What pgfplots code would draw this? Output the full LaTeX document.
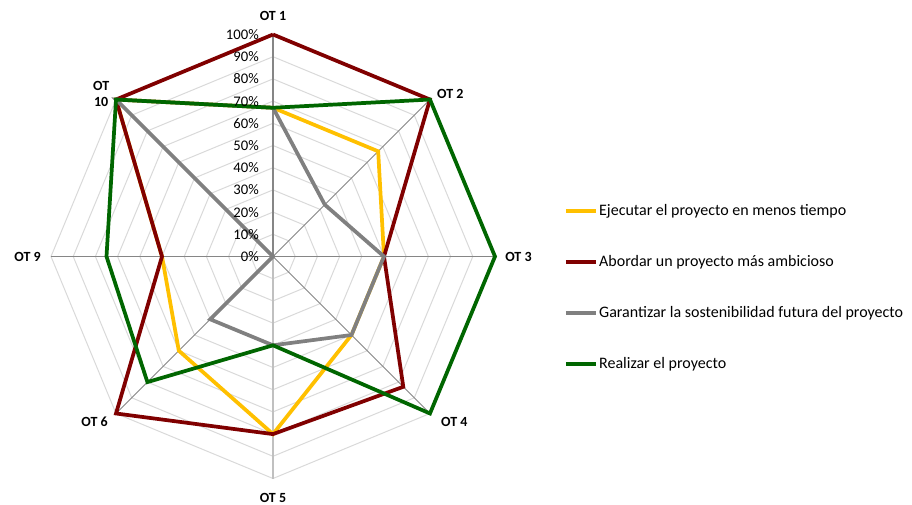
\documentclass[border=0pt]{standalone}
\usepackage{fontspec}
\setmainfont{Carlito}
\usepackage{pgfplots}
\pgfplotsset{compat=1.18}
\usepgfplotslibrary{polar}

\definecolor{cYel}{HTML}{FFC000}
\definecolor{cRed}{HTML}{800000}
\definecolor{cGry}{HTML}{808080}
\definecolor{cGrn}{HTML}{006600}
\definecolor{gridc}{HTML}{D9D9D9}
\definecolor{spoke}{HTML}{868686}

\begin{document}
\begin{tikzpicture}[
  lbl/.style={font=\bfseries\fontsize{10.5}{12.5}\selectfont, inner sep=0pt}]
\path[use as bounding box] (0pt,0pt) rectangle (684pt,-378.75pt);
\begin{polaraxis}[
  at={(204.75pt,-192.375pt)}, anchor=center,
  width=333pt, height=333pt, scale only axis,
  xmin=0, xmax=360, ymin=0, ymax=100,
  hide axis, clip=false,
  legend style={at={(axis description cs:1.155,0.43)}, anchor=west,
    draw=none, fill=none, inner sep=0pt, font=\fontsize{12}{14}\selectfont,
    nodes={inner sep=1pt, text height=9pt, text depth=3pt},
    row sep=24.25pt, cells={anchor=west}},
  legend image code/.code={\draw[#1] (0pt,0pt) -- (22.5pt,0pt);},
]
% web
\pgfplotsinvokeforeach{10,20,30,40,50,60,70,80,90,100}{
  \addplot[gridc, line width=0.75pt, forget plot] coordinates
    {(90,#1) (45,#1) (0,#1) (-45,#1) (-90,#1) (-135,#1) (-180,#1) (-225,#1) (-270,#1)};
}
\addplot[spoke, line width=0.75pt, forget plot] coordinates {(45,100) (45,0) (-135,100)};
\addplot[spoke, line width=0.75pt, forget plot] coordinates {(135,100) (135,0) (-45,100)};
\addplot[spoke, line width=0.75pt, forget plot] coordinates {(0,100) (0,0) (180,100)};
\addplot[gridc!70!spoke, line width=1pt, forget plot] coordinates {(-90,0) (-90,100)};
\addplot[spoke, line width=1.5pt, forget plot] coordinates {(90,0) (90,100)};

% series: OT1, OT2, OT3, OT4, OT5, OT6, OT9, OT10
\addplot[cYel, line width=2.8pt, line join=miter] coordinates
  {(90,67) (45,67) (0,50) (-45,50) (-90,80) (-135,60) (-180,50) (-225,100) (-270,67)};
\addlegendentry{Ejecutar el proyecto en menos tiempo}
\addplot[cRed, line width=2.8pt, line join=miter] coordinates
  {(90,100) (45,100) (0,50) (-45,83) (-90,80) (-135,100) (-180,50) (-225,100) (-270,100)};
\addlegendentry{Abordar un proyecto más ambicioso}
\addplot[cGry, line width=2.8pt, line join=miter] coordinates
  {(90,67) (45,33) (0,50) (-45,50) (-90,40) (-135,40) (-180,0) (-225,100) (-270,67)};
\addlegendentry{Garantizar la sostenibilidad futura del proyecto}
\addplot[cGrn, line width=2.8pt, line join=miter] coordinates
  {(90,67) (45,100) (0,100) (-45,100) (-90,40) (-135,80) (-180,75) (-225,100) (-270,67)};
\addlegendentry{Realizar el proyecto}

% value labels
\pgfplotsinvokeforeach{0,10,20,30,40,50,60,70,80,90,100}{
  \node[anchor=east, inner sep=0pt, xshift=-10.5pt, font=\fontsize{11}{12}\selectfont]
    at (axis cs:90,#1) {#1\%};
}
% category labels
\node[lbl, anchor=center, yshift=13.9pt] at (axis cs:90,100) {OT 1};
\node[lbl, anchor=west, xshift=5.25pt, yshift=4pt] at (axis cs:45,100) {OT 2};
\node[lbl, anchor=west, xshift=7.5pt] at (axis cs:0,100) {OT 3};
\node[lbl, anchor=west, xshift=8.25pt, yshift=-6pt] at (axis cs:-45,100) {OT 4};
\node[lbl, anchor=center, yshift=-14.3pt] at (axis cs:-90,100) {OT 5};
\node[lbl, anchor=east, xshift=-6pt, yshift=-6pt] at (axis cs:-135,100) {OT 6};
\node[lbl, anchor=east, xshift=-7.5pt] at (axis cs:180,100) {OT 9};
\node[lbl, anchor=east, align=center, xshift=-4.9pt, yshift=4.1pt] at (axis cs:135,100) {OT\\10};
\end{polaraxis}
\end{tikzpicture}
\end{document}
